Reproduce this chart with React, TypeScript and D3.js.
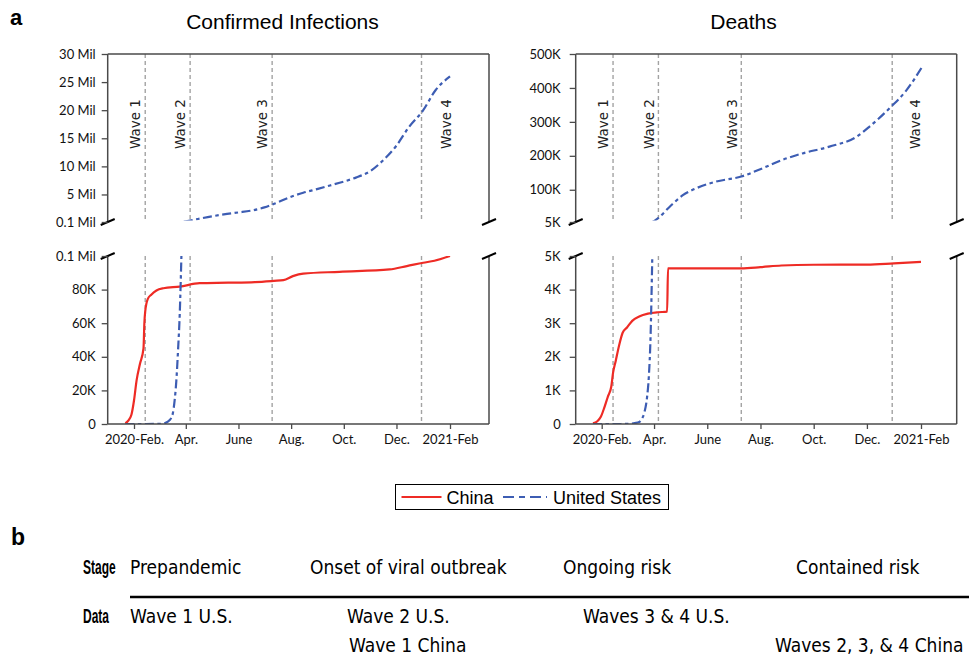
import { useEffect, useRef } from "react";
import * as d3 from "d3";

// cumulative counts
const chinaCases: [string, number][] = [
  ["2020-01-22", 500], ["2020-01-25", 1800], ["2020-01-29", 5500], ["2020-02-01", 14000],
  ["2020-02-04", 26000], ["2020-02-08", 36000], ["2020-02-12", 45000], ["2020-02-13", 60000],
  ["2020-02-14", 67000], ["2020-02-17", 74500], ["2020-02-21", 77000], ["2020-02-27", 79500],
  ["2020-03-06", 80800], ["2020-03-25", 81800], ["2020-04-17", 83800], ["2020-05-20", 84100],
  ["2020-06-20", 84500], ["2020-07-12", 85200], ["2020-07-23", 85600], ["2020-08-03", 88000],
  ["2020-08-15", 89500], ["2020-09-26", 90600], ["2020-11-23", 92000], ["2020-12-13", 94000],
  ["2021-01-01", 96000], ["2021-01-14", 97200], ["2021-02-01", 100000],
];

const usCases: [string, number][] = [
  ["2020-01-22", 0], ["2020-02-15", 15], ["2020-03-01", 75], ["2020-03-06", 300],
  ["2020-03-10", 1000], ["2020-03-13", 2200], ["2020-03-15", 3500], ["2020-03-17", 6400],
  ["2020-03-19", 13700], ["2020-03-21", 25500], ["2020-03-23", 43800], ["2020-03-25", 65800],
  ["2020-03-27", 101700], ["2020-04-01", 215000], ["2020-04-15", 640000], ["2020-05-01", 1100000],
  ["2020-05-15", 1450000], ["2020-06-01", 1800000], ["2020-06-15", 2100000], ["2020-07-01", 2700000],
  ["2020-07-15", 3500000], ["2020-08-01", 4600000], ["2020-08-15", 5300000], ["2020-09-01", 6000000],
  ["2020-09-15", 6600000], ["2020-10-01", 7300000], ["2020-10-15", 8000000], ["2020-11-01", 9200000],
  ["2020-11-15", 11000000], ["2020-12-01", 13700000], ["2020-12-15", 16900000], ["2021-01-01", 20000000],
  ["2021-01-15", 23500000], ["2021-02-01", 26000000],
];

const chinaDeaths: [string, number][] = [
  ["2020-01-22", 17], ["2020-01-27", 80], ["2020-01-31", 213], ["2020-02-04", 490],
  ["2020-02-08", 810], ["2020-02-12", 1115], ["2020-02-14", 1520], ["2020-02-17", 1870],
  ["2020-02-21", 2345], ["2020-02-25", 2715], ["2020-03-01", 2872], ["2020-03-07", 3070],
  ["2020-03-15", 3200], ["2020-03-25", 3285], ["2020-04-05", 3326], ["2020-04-16", 3342],
  ["2020-04-17", 4632], ["2020-06-01", 4634], ["2020-07-10", 4634], ["2020-08-01", 4668],
  ["2020-08-25", 4718], ["2020-10-01", 4739], ["2020-12-01", 4742], ["2021-01-01", 4781],
  ["2021-02-01", 4825],
];

const usDeaths: [string, number][] = [
  ["2020-01-22", 0], ["2020-02-29", 1], ["2020-03-10", 28], ["2020-03-15", 60],
  ["2020-03-18", 150], ["2020-03-21", 350], ["2020-03-24", 800], ["2020-03-26", 1400],
  ["2020-03-28", 2600], ["2020-03-30", 5000], ["2020-04-05", 15000], ["2020-04-19", 50000],
  ["2020-05-04", 84000], ["2020-05-19", 104000], ["2020-06-11", 124000], ["2020-07-10", 139000],
  ["2020-08-03", 163000], ["2020-08-26", 188000], ["2020-09-18", 207000], ["2020-10-19", 227000],
  ["2020-11-19", 256000], ["2020-12-04", 286000], ["2020-12-28", 343000], ["2021-01-15", 392000],
  ["2021-02-02", 461000],
];

const waveNames = ["Wave 1", "Wave 2", "Wave 3", "Wave 4"];
const waveDates = ["2020-02-14", "2020-04-06", "2020-07-10", "2020-12-30"];

const monthTicks = ["2020-02-01", "2020-04-01", "2020-06-01", "2020-08-01", "2020-10-01", "2020-12-01", "2021-02-01"];
const monthLabels = ["2020-Feb.", "Apr.", "June", "Aug.", "Oct.", "Dec.", "2021-Feb"];

const casesTopTicks = [0.1e6, 5e6, 10e6, 15e6, 20e6, 25e6, 30e6];
const casesTopLabels = ["0.1 Mil", "5 Mil", "10 Mil", "15 Mil", "20 Mil", "25 Mil", "30 Mil"];
const casesBotTicks = [0, 20e3, 40e3, 60e3, 80e3, 100e3];
const casesBotLabels = ["0", "20K", "40K", "60K", "80K", "0.1 Mil"];

const deathsTopTicks = [5e3, 100e3, 200e3, 300e3, 400e3, 500e3];
const deathsTopLabels = ["5K", "100K", "200K", "300K", "400K", "500K"];
const deathsBotTicks = [0, 1e3, 2e3, 3e3, 4e3, 5e3];
const deathsBotLabels = ["0", "1K", "2K", "3K", "4K", "5K"];

const seriesNames = ["China", "United States"];

const rowHeads = ["Stage", "Data"];
const stageRow = ["Prepandemic", "Onset of viral outbreak", "Ongoing risk", "Contained risk"];
const dataRow1 = ["Wave 1 U.S.", "Wave 2 U.S.", "Waves 3 & 4 U.S."];
const dataRow2 = ["Wave 1 China", "Waves 2, 3, & 4 China"];

const RED = "#ee2b25";
const BLUE = "#3d5db3";
const US_DASH = "9,3.5,3.5,3.5";
const parse = d3.timeParse("%Y-%m-%d");
const TICK_FONT = "Lato, 'DejaVu Sans', sans-serif";

function drawPanel(svg: any, p: any) {
  const g = svg.append("g");
  const topY = [54, 222];
  const botY = [256, 424];
  const x = d3.scaleTime().domain([parse("2020-02-01"), parse("2021-02-01")]).range(p.xRange);
  const yTop = d3.scaleLinear().domain(p.topDomain).range([topY[1], topY[0]]);
  const yBot = d3.scaleLinear().domain(p.botDomain).range([botY[1], botY[0]]);

  // top pane clip stops just above its floor so values under the break don't show
  const defs = g.append("defs");
  defs.append("clipPath").attr("id", p.id + "top").append("rect")
    .attr("x", p.axisX).attr("y", topY[0]).attr("width", p.rightX - p.axisX).attr("height", topY[1] - topY[0] - 1.6);
  defs.append("clipPath").attr("id", p.id + "bot").append("rect")
    .attr("x", p.axisX).attr("y", botY[0]).attr("width", p.rightX - p.axisX).attr("height", botY[1] - botY[0]);

  // wave markers
  waveDates.forEach((w, i) => {
    const wx = x(parse(w));
    [topY, botY].forEach((r) => {
      g.append("line").attr("x1", wx).attr("x2", wx).attr("y1", r[0]).attr("y2", r[1])
        .attr("stroke", "#a3a3a3").attr("stroke-width", 1.4).attr("stroke-dasharray", "4,3");
    });
    const lx = wx + (i === 3 ? p.lastWaveShift : -9.5);
    g.append("text").attr("transform", `translate(${lx},124) rotate(-90)`)
      .attr("text-anchor", "middle").attr("dy", "0.35em")
      .style("font-family", "'DejaVu Sans', sans-serif").style("font-size", "13.5px").style("fill", "#222")
      .text(waveNames[i]);
  });

  // series
  const panes = [[yTop, "top"], [yBot, "bot"]];
  panes.forEach(([ys, key]: any) => {
    const line = d3.line<[string, number]>()
      .x((d) => x(parse(d[0]) as Date))
      .y((d) => ys(d[1]))
      .curve(d3.curveMonotoneX);
    const pg = g.append("g").attr("clip-path", `url(#${p.id + key})`);
    pg.append("path").datum(p.china).attr("d", line).attr("fill", "none")
      .attr("stroke", RED).attr("stroke-width", 2.2);
    pg.append("path").datum(p.us).attr("d", line).attr("fill", "none")
      .attr("stroke", BLUE).attr("stroke-width", 2.2).attr("stroke-dasharray", US_DASH);
  });

  // frame
  const frame = "#4a4a4a";
  const seg = (x1: number, y1: number, x2: number, y2: number, c: string, w: number) =>
    g.append("line").attr("x1", x1).attr("y1", y1).attr("x2", x2).attr("y2", y2)
      .attr("stroke", c).attr("stroke-width", w);
  seg(p.axisX, topY[0], p.rightX, topY[0], frame, 1.5);
  [p.axisX, p.rightX].forEach((ax: number) => {
    seg(ax, topY[0], ax, topY[1], frame, 1.5);
    seg(ax, botY[0], ax, botY[1], frame, 1.5);
    seg(ax - 7, topY[1] + 3, ax + 7, topY[1] - 3, "#000", 2);
    seg(ax - 7, botY[0] + 3, ax + 7, botY[0] - 3, "#000", 2);
  });
  seg(p.axisX, botY[1], p.rightX, botY[1], frame, 1.5);

  const styleAxis = (a: any) => {
    a.select(".domain").remove();
    a.selectAll(".tick line").attr("stroke", frame).attr("stroke-width", 1.3);
    a.selectAll("text").style("font-family", TICK_FONT).style("font-size", "13px").attr("fill", "#111");
  };

  g.append("g").attr("transform", `translate(${p.axisX},0)`)
    .call(d3.axisLeft(yTop).tickValues(p.topTicks).tickFormat((d: any, i: number) => p.topLabels[i])
      .tickSize(6).tickPadding(p.tickPad))
    .call(styleAxis);
  g.append("g").attr("transform", `translate(${p.axisX},0)`)
    .call(d3.axisLeft(yBot).tickValues(p.botTicks).tickFormat((d: any, i: number) => p.botLabels[i])
      .tickSize(6).tickPadding(p.tickPad))
    .call(styleAxis);
  g.append("g").attr("transform", `translate(0,${botY[1]})`)
    .call(d3.axisBottom(x).tickValues(monthTicks.map((m) => parse(m) as Date))
      .tickFormat((d: any, i: number) => monthLabels[i]).tickSize(5).tickPadding(6))
    .call(styleAxis);

  g.append("text").attr("x", p.titleX).attr("y", 29).attr("text-anchor", "middle")
    .style("font-family", "'Liberation Sans', Arial, sans-serif").style("font-size", "21px")
    .text(p.title);
}

function App() {
  const ref = useRef<SVGSVGElement>(null);

  useEffect(() => {
    const svg = d3.select(ref.current);
    svg.selectAll("*").remove();
    const sans = "'Liberation Sans', Arial, sans-serif";
    const narrow = "'Liberation Sans Narrow', 'DejaVu Sans Condensed', Arial, sans-serif";

    svg.append("rect").attr("width", 969).attr("height", 658).attr("fill", "#fff");
    svg.append("text").attr("x", 10).attr("y", 25).style("font-family", sans)
      .style("font-size", "22px").style("font-weight", "bold").text("a");

    drawPanel(svg, {
      id: "cases", title: "Confirmed Infections", titleX: 282.5,
      axisX: 107.7, rightX: 489, xRange: [134, 450], tickPad: 6, lastWaveShift: 25,
      topDomain: [0.1e6, 30e6], botDomain: [0, 100e3],
      topTicks: casesTopTicks, topLabels: casesTopLabels,
      botTicks: casesBotTicks, botLabels: casesBotLabels,
      china: chinaCases, us: usCases,
    });
    drawPanel(svg, {
      id: "deaths", title: "Deaths", titleX: 743.5,
      axisX: 575.7, rightX: 956.7, xRange: [601.7, 921], tickPad: 9, lastWaveShift: 23,
      topDomain: [5e3, 500e3], botDomain: [0, 5e3],
      topTicks: deathsTopTicks, topLabels: deathsTopLabels,
      botTicks: deathsBotTicks, botLabels: deathsBotLabels,
      china: chinaDeaths, us: usDeaths,
    });

    // legend
    const lg = svg.append("g");
    lg.append("rect").attr("x", 395.5).attr("y", 484.5).attr("width", 273).attr("height", 25)
      .attr("fill", "#fff").attr("stroke", "#000").attr("stroke-width", 1);
    lg.append("line").attr("x1", 401.5).attr("x2", 441.5).attr("y1", 497).attr("y2", 497)
      .attr("stroke", RED).attr("stroke-width", 2.2);
    lg.append("line").attr("x1", 503).attr("x2", 547).attr("y1", 497).attr("y2", 497)
      .attr("stroke", BLUE).attr("stroke-width", 2.2).attr("stroke-dasharray", "11,5,6,5");
    [446.5, 553].forEach((lx, i) => {
      lg.append("text").attr("x", lx).attr("y", 503.5).style("font-family", sans)
        .style("font-size", "18px").text(seriesNames[i]);
    });

    // panel b
    svg.append("text").attr("x", 11).attr("y", 545).style("font-family", sans)
      .style("font-size", "23px").style("font-weight", "bold").text("b");
    const tb = svg.append("g").style("font-family", narrow).style("font-size", "19px");
    [574, 623].forEach((y, i) => {
      svg.append("text").attr("transform", `translate(83,${y}) scale(0.6,1)`)
        .style("font-family", sans).style("font-size", "20px").style("font-weight", "bold")
        .text(rowHeads[i]);
    });
    const stageX = [130, 310, 563, 796];
    stageRow.forEach((s, i) => tb.append("text").attr("x", stageX[i]).attr("y", 574).text(s));
    const row1X = [130, 347, 583];
    dataRow1.forEach((s, i) => tb.append("text").attr("x", row1X[i]).attr("y", 623).text(s));
    const row2X = [349, 775];
    dataRow2.forEach((s, i) => tb.append("text").attr("x", row2X[i]).attr("y", 652).text(s));
    svg.append("line").attr("x1", 130).attr("x2", 969).attr("y1", 597).attr("y2", 597)
      .attr("stroke", "#000").attr("stroke-width", 2.5);
  }, []);

  return (
    <svg
      ref={ref}
      width={969}
      height={658}
      style={{ position: "absolute", left: 0, top: 0, display: "block" }}
    />
  );
}

export default App;
